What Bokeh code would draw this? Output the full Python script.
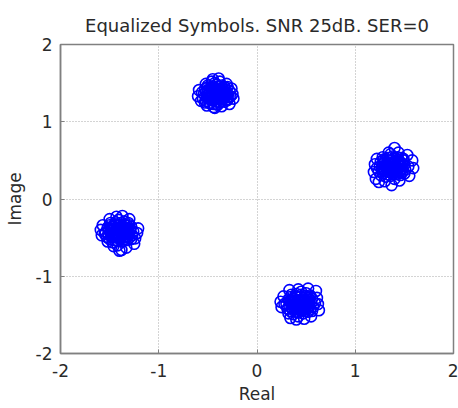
from bokeh.plotting import figure
from bokeh.models import Range1d, FixedTicker, CustomJSTickFormatter
from bokeh.embed import file_html
from bokeh.resources import INLINE

# Equalized symbols, four clusters (real, imag)
top_real = [-0.53, -0.48, -0.44, -0.38, -0.33, -0.30,
            -0.55, -0.49, -0.43, -0.39, -0.34, -0.29,
            -0.54, -0.50, -0.45, -0.40, -0.35, -0.30,
            -0.53, -0.48, -0.42, -0.37, -0.32, -0.28,
            -0.50, -0.45, -0.41, -0.36, -0.33,
            -0.60, -0.59, -0.57, -0.25, -0.24, -0.26, -0.46, -0.38, -0.52,
            -0.31, -0.44, -0.36, -0.51, -0.28, -0.42, -0.47, -0.37, -0.44,
            -0.45, -0.39, -0.43,
            -0.52, -0.46, -0.41, -0.36, -0.31,
            -0.51, -0.47, -0.42, -0.37, -0.32,
            -0.52, -0.46, -0.41, -0.36, -0.31,
            -0.51, -0.46, -0.40, -0.35, -0.30,
            -0.56, -0.27, -0.43, -0.40,
            -0.50, -0.46, -0.42, -0.38, -0.34,
            -0.49, -0.45, -0.41, -0.37, -0.33,
            -0.50, -0.44, -0.40, -0.36, -0.34]
top_imag = [1.25, 1.24, 1.23, 1.25, 1.26, 1.28,
            1.30, 1.31, 1.29, 1.31, 1.30, 1.32,
            1.36, 1.35, 1.37, 1.36, 1.37, 1.35,
            1.42, 1.41, 1.43, 1.42, 1.41, 1.40,
            1.47, 1.46, 1.48, 1.47, 1.45,
            1.33, 1.41, 1.27, 1.36, 1.30, 1.43, 1.52, 1.52, 1.49,
            1.49, 1.19, 1.20, 1.21, 1.23, 1.34, 1.33, 1.39, 1.40,
            1.55, 1.56, 1.18,
            1.27, 1.28, 1.26, 1.27, 1.29,
            1.33, 1.32, 1.31, 1.33, 1.34,
            1.39, 1.38, 1.39, 1.40, 1.38,
            1.44, 1.44, 1.45, 1.44, 1.45,
            1.38, 1.33, 1.50, 1.22,
            1.30, 1.31, 1.30, 1.29, 1.31,
            1.35, 1.36, 1.355, 1.35, 1.36,
            1.41, 1.40, 1.41, 1.41, 1.39]

right_real = [1.26, 1.31, 1.36, 1.41, 1.46, 1.50,
              1.24, 1.30, 1.35, 1.40, 1.45, 1.51,
              1.25, 1.31, 1.36, 1.41, 1.46, 1.50,
              1.26, 1.30, 1.35, 1.40, 1.45, 1.49,
              1.28, 1.33, 1.38, 1.43, 1.47,
              1.40, 1.44, 1.58, 1.59, 1.55, 1.20, 1.19, 1.21, 1.24,
              1.30, 1.37, 1.45, 1.53, 1.22, 1.34, 1.38, 1.43,
              1.28, 1.33, 1.38, 1.43, 1.48,
              1.27, 1.33, 1.38, 1.43, 1.48,
              1.28, 1.33, 1.38, 1.43, 1.48,
              1.29, 1.34, 1.39, 1.44, 1.49,
              1.54, 1.22, 1.36, 1.40,
              1.30, 1.34, 1.38, 1.42, 1.46,
              1.31, 1.35, 1.39, 1.43, 1.47,
              1.30, 1.36, 1.40, 1.44, 1.46]
right_imag = [0.31, 0.29, 0.30, 0.32, 0.31, 0.33,
              0.36, 0.37, 0.35, 0.37, 0.36, 0.38,
              0.42, 0.43, 0.41, 0.43, 0.42, 0.44,
              0.48, 0.49, 0.47, 0.49, 0.48, 0.50,
              0.54, 0.53, 0.55, 0.54, 0.53,
              0.66, 0.60, 0.50, 0.40, 0.30, 0.45, 0.35, 0.26, 0.22,
              0.23, 0.18, 0.24, 0.57, 0.52, 0.60, 0.39, 0.45,
              0.33, 0.32, 0.34, 0.33, 0.35,
              0.39, 0.40, 0.38, 0.40, 0.39,
              0.45, 0.46, 0.44, 0.47, 0.46,
              0.51, 0.50, 0.52, 0.51, 0.52,
              0.42, 0.40, 0.58, 0.26,
              0.36, 0.37, 0.36, 0.35, 0.37,
              0.41, 0.42, 0.415, 0.41, 0.42,
              0.47, 0.46, 0.47, 0.47, 0.45]

left_real = [-1.52, -1.47, -1.42, -1.37, -1.32, -1.28,
             -1.53, -1.48, -1.43, -1.38, -1.33, -1.27,
             -1.54, -1.49, -1.44, -1.39, -1.34, -1.29,
             -1.52, -1.47, -1.42, -1.37, -1.32, -1.28,
             -1.49, -1.44, -1.39, -1.35, -1.31,
             -1.59, -1.58, -1.57, -1.22, -1.21, -1.24, -1.43, -1.37, -1.50,
             -1.30, -1.38, -1.33, -1.46, -1.25, -1.41, -1.46, -1.35, -1.40,
             -1.50, -1.45, -1.40, -1.35, -1.30,
             -1.51, -1.46, -1.41, -1.36, -1.31,
             -1.51, -1.46, -1.41, -1.36, -1.31,
             -1.50, -1.45, -1.40, -1.35, -1.30,
             -1.55, -1.26, -1.41, -1.42,
             -1.48, -1.44, -1.40, -1.36, -1.32,
             -1.47, -1.43, -1.39, -1.35, -1.31,
             -1.48, -1.42, -1.38, -1.34, -1.32]
left_imag = [-0.55, -0.56, -0.54, -0.55, -0.53, -0.52,
             -0.49, -0.48, -0.50, -0.48, -0.49, -0.47,
             -0.43, -0.42, -0.44, -0.42, -0.43, -0.41,
             -0.37, -0.36, -0.38, -0.37, -0.35, -0.36,
             -0.31, -0.30, -0.31, -0.29, -0.31,
             -0.40, -0.47, -0.34, -0.44, -0.38, -0.51, -0.23, -0.22, -0.26,
             -0.26, -0.66, -0.63, -0.61, -0.58, -0.46, -0.40, -0.45, -0.67,
             -0.52, -0.53, -0.51, -0.52, -0.50,
             -0.46, -0.45, -0.47, -0.46, -0.45,
             -0.40, -0.39, -0.40, -0.39, -0.38,
             -0.34, -0.33, -0.34, -0.33, -0.34,
             -0.45, -0.42, -0.27, -0.60,
             -0.49, -0.48, -0.49, -0.50, -0.48,
             -0.44, -0.43, -0.435, -0.44, -0.43,
             -0.38, -0.39, -0.38, -0.38, -0.40]

bottom_real = [0.32, 0.37, 0.42, 0.47, 0.52, 0.56,
               0.31, 0.36, 0.41, 0.46, 0.51, 0.57,
               0.30, 0.35, 0.40, 0.45, 0.50, 0.55,
               0.32, 0.37, 0.42, 0.47, 0.52, 0.56,
               0.35, 0.40, 0.45, 0.50, 0.54,
               0.24, 0.25, 0.27, 0.62, 0.63, 0.61, 0.60, 0.42, 0.33,
               0.52, 0.40, 0.48, 0.55, 0.34, 0.44, 0.39, 0.49,
               0.34, 0.39, 0.44, 0.49, 0.54,
               0.33, 0.38, 0.43, 0.48, 0.53,
               0.33, 0.38, 0.43, 0.48, 0.53,
               0.34, 0.39, 0.44, 0.49, 0.54,
               0.28, 0.59, 0.45, 0.42,
               0.36, 0.40, 0.44, 0.48, 0.52,
               0.37, 0.41, 0.45, 0.49, 0.53,
               0.36, 0.42, 0.46, 0.50, 0.52]
bottom_imag = [-1.48, -1.49, -1.47, -1.48, -1.46, -1.45,
               -1.42, -1.41, -1.43, -1.41, -1.42, -1.40,
               -1.36, -1.35, -1.37, -1.35, -1.36, -1.34,
               -1.30, -1.29, -1.31, -1.30, -1.28, -1.29,
               -1.24, -1.23, -1.24, -1.22, -1.25,
               -1.33, -1.40, -1.26, -1.36, -1.44, -1.28, -1.19, -1.17, -1.18,
               -1.16, -1.56, -1.55, -1.52, -1.54, -1.39, -1.33, -1.32,
               -1.45, -1.46, -1.44, -1.45, -1.43,
               -1.39, -1.38, -1.40, -1.38, -1.39,
               -1.33, -1.32, -1.34, -1.33, -1.31,
               -1.27, -1.26, -1.27, -1.26, -1.27,
               -1.36, -1.35, -1.20, -1.52,
               -1.42, -1.41, -1.42, -1.43, -1.41,
               -1.37, -1.36, -1.365, -1.37, -1.36,
               -1.31, -1.32, -1.31, -1.31, -1.33]

axis_ticks = [-2, -1, 0, 1, 2]

real_vals = top_real + right_real + left_real + bottom_real
imag_vals = top_imag + right_imag + left_imag + bottom_imag

FONT = "DejaVu Sans"
TXT = "#2a2a2a"

p = figure(width=458, height=408, output_backend="svg", toolbar_location=None,
           x_range=Range1d(-2, 2), y_range=Range1d(-2, 2),
           min_border_left=60, min_border_right=5, min_border_top=44,
           min_border_bottom=55,
           title="Equalized Symbols. SNR 25dB. SER=0",
           x_axis_label="Real", y_axis_label="Image")

p.background_fill_color = "white"
p.border_fill_color = "white"
p.outline_line_color = "#808080"
p.outline_line_width = 1.5

p.title.align = "center"
p.title.text_font = FONT
p.title.text_font_size = "18px"
p.title.text_font_style = "normal"
p.title.text_color = TXT
p.title.standoff = 18

for ax in (p.xaxis, p.yaxis):
    ax.ticker = FixedTicker(ticks=axis_ticks)
    ax.formatter = CustomJSTickFormatter(code="return String(tick);")
    ax.axis_line_color = "#808080"
    ax.axis_line_width = 1.5
    ax.major_tick_in = 4
    ax.major_tick_out = 0
    ax.major_tick_line_color = "#808080"
    ax.minor_tick_line_color = None
    ax.major_label_text_font = FONT
    ax.major_label_text_font_size = "17px"
    ax.major_label_text_color = TXT
    ax.axis_label_text_font = FONT
    ax.axis_label_text_font_size = "17px"
    ax.axis_label_text_font_style = "normal"
    ax.axis_label_text_color = TXT

p.xaxis.major_label_standoff = 10
p.yaxis.major_label_standoff = 8
p.xaxis.axis_label_standoff = 4
p.yaxis.axis_label_standoff = 8

for g in (p.xgrid, p.ygrid):
    g.ticker = FixedTicker(ticks=axis_ticks)
    g.grid_line_color = "#a8a8a8"
    g.grid_line_dash = "1 2"
    g.grid_line_width = 1

p.scatter(real_vals, imag_vals, marker="circle", size=11,
          fill_color=None, line_color="#0000ff", line_width=1.6)

open("out.html", "w").write(file_html(p, INLINE))
